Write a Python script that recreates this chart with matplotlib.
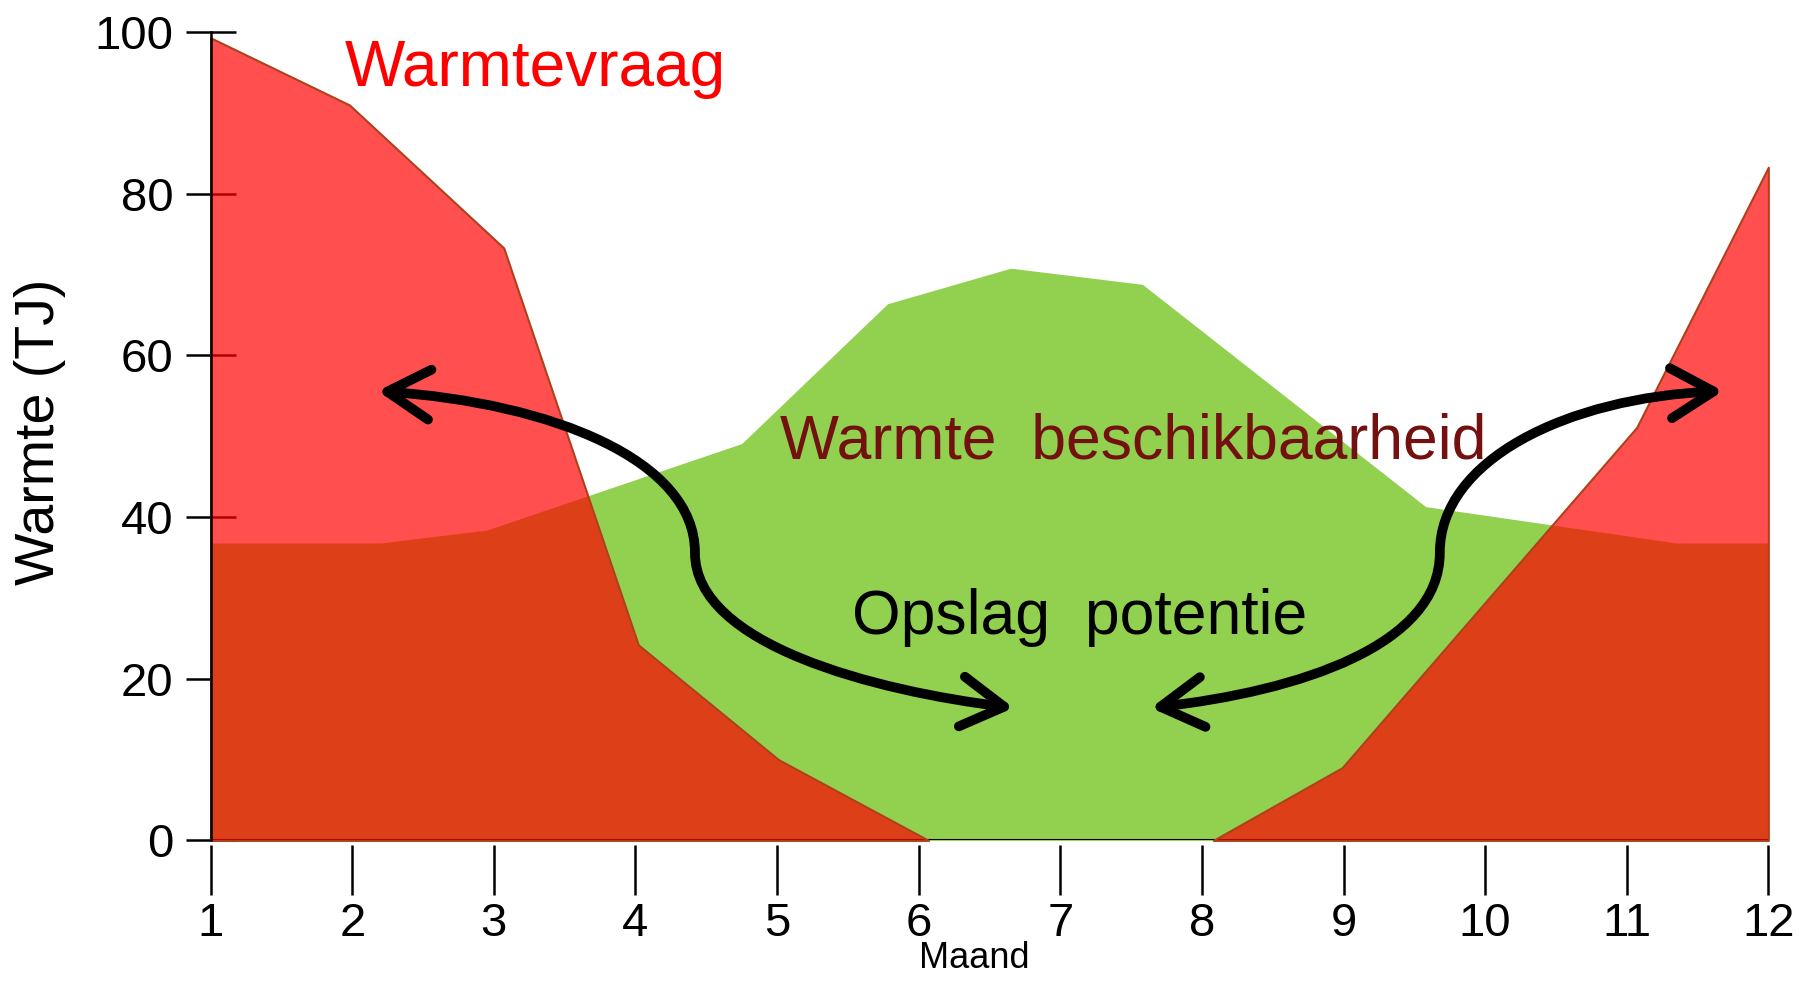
import matplotlib
matplotlib.use("Agg")
import matplotlib.pyplot as plt
from matplotlib.path import Path
from matplotlib.patches import FancyArrowPatch

plt.rcParams['font.family'] = ['Liberation Sans', 'DejaVu Sans']

# Warmtevraag (heat demand): winter part and end-of-year part
vraag_maand_a = [1.0, 1.98, 3.07, 4.02, 5.01, 6.07]
vraag_a = [99.3, 91.0, 73.3, 24.2, 10.0, 0.0]
vraag_maand_b = [8.08, 8.99, 11.07, 12.0]
vraag_b = [0.0, 9.0, 51.1, 83.3]

# Warmte beschikbaarheid (heat availability)
aanbod_maand = [1.0, 2.2, 2.95, 4.75, 5.78, 6.65, 7.58, 9.58, 11.35, 12.0]
aanbod = [36.8, 36.8, 38.4, 49.1, 66.4, 70.8, 68.8, 41.3, 36.8, 36.8]

maanden = list(range(1, 13))
y_ticks = [0, 20, 40, 60, 80, 100]

# control points (maand, TJ) of the two curved double arrows
pijl_links = [(2.18, 55.6), (3.42, 54.1), (4.42, 47.0), (4.42, 35.6),
              (4.42, 24.2), (5.69, 18.5), (6.67, 16.4)]
pijl_rechts = [(7.64, 16.4), (8.70, 18.5), (9.68, 24.2), (9.68, 35.6),
               (9.68, 47.0), (10.57, 54.8), (11.68, 55.6)]

fig = plt.figure(figsize=(18.05, 9.81), dpi=100)
ax = fig.add_axes([0.1167, 0.1433, 0.863, 0.8239])

# green availability underneath, red demand semi-transparent on top
ax.fill_between(aanbod_maand, aanbod, color='#92D050', lw=0, zorder=1)
ax.axhline(0, color='black', lw=2.2, zorder=1.5)
for xs, ys in ((vraag_maand_a, vraag_a), (vraag_maand_b, vraag_b)):
    ax.fill_between(xs, ys, facecolor=(1.0, 0.0, 0.0, 0.69),
                    edgecolor='#B0401C', lw=1.5, zorder=2, clip_on=False)

ax.set_xlim(1, 12)
ax.set_ylim(0, 100)
ax.set_xticks(maanden)
ax.set_yticks(y_ticks)
ax.set_axisbelow(True)

for side in ['top', 'right', 'bottom']:
    ax.spines[side].set_visible(False)
ax.spines['bottom'].set_position(('outward', 3))
ax.spines['left'].set_linewidth(1.8)

ax.tick_params(axis='x', direction='out', length=36, width=1.8, pad=5, labelsize=34)
ax.tick_params(axis='y', direction='inout', length=36, width=1.8, pad=9, labelsize=34)

# curved arrows
codes = [Path.MOVETO] + [Path.CURVE4] * 6
for pts in (pijl_links, pijl_rechts):
    arrow = FancyArrowPatch(path=Path(pts, codes),
                            arrowstyle='<->,head_length=0.85,head_width=0.5',
                            mutation_scale=36, lw=7, color='black',
                            capstyle='round', joinstyle='round', zorder=5)
    ax.add_patch(arrow)

ax.text(1.95, 93.3, 'Warmtevraag', color='#FF0000', fontsize=46, va='baseline')
ax.text(5.02, 47.3, 'Warmte  beschikbaarheid', color='#731111', fontsize=45,
        va='baseline', zorder=4)
ax.text(5.53, 25.6, 'Opslag  potentie', color='black', fontsize=45,
        va='baseline', zorder=4)

ax.set_xlabel('Maand', fontsize=26)
ax.xaxis.set_label_coords(0.49, -0.125)
ax.set_ylabel('Warmte (TJ)', fontsize=40)
ax.yaxis.set_label_coords(-0.093, 0.506)

fig.savefig('out.png', dpi=100)
